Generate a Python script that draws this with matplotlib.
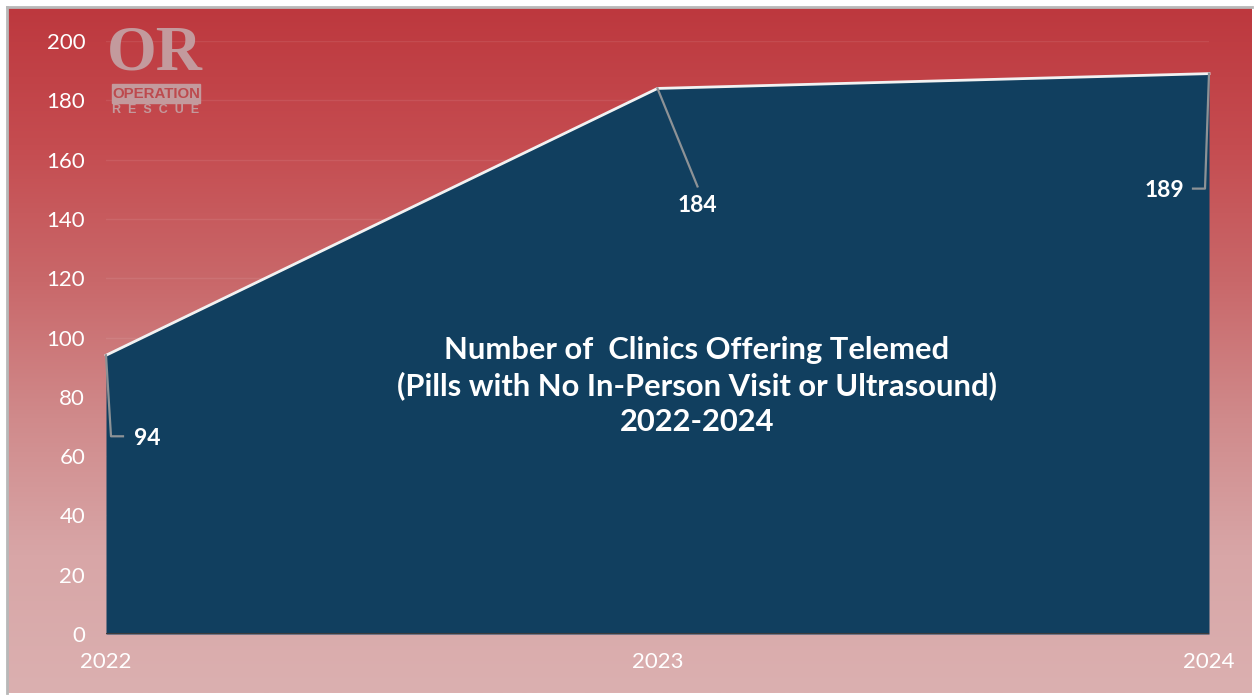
# Number of clinics offering telemed, 2022-2024

import numpy as np
import matplotlib.pyplot as plt
import matplotlib.colors as mcolors
from matplotlib.lines import Line2D
from matplotlib.patches import Rectangle

years = [2022, 2023, 2024]
clinics = [94, 184, 189]
y_ticks = list(range(0, 201, 20))
title_lines = ['Number of  Clinics Offering Telemed',
               '(Pills with No In-Person Visit or Ultrasound)',
               '2022-2024']

W, H = 1254, 696
plt.rcParams['font.family'] = ['Lato', 'DejaVu Sans']


def px(x, y, w=0, h=0):
    # pixel box (from top left) to figure fraction
    return [x / W, 1 - (y + h) / H, w / W, h / H]


fig = plt.figure(figsize=(W / 100, H / 100), dpi=100, facecolor='white')

# page background: grey frame on top and left, red gradient inside
frame = fig.add_axes(px(7, 7, 1245, 686))
frame.set_xticks([])
frame.set_yticks([])
frame.spines['bottom'].set_visible(False)
frame.spines['right'].set_visible(False)
for name in ['top', 'left']:
    frame.spines[name].set_color('#b8b8b8')
    frame.spines[name].set_linewidth(2)
cmap = mcolors.LinearSegmentedColormap.from_list(
    'bg', ['#bd383e', '#c54c50', '#c9686a', '#d08a8b', '#d8a6a7', '#dbb0b0'])
frame.imshow(np.linspace(0, 1, 256).reshape(-1, 1), cmap=cmap, aspect='auto')

# plot area
ax = fig.add_axes(px(106, 41, 1103, 593))
ax.patch.set_alpha(0)
ax.set_xlim(2022, 2024)
ax.set_ylim(0, 200)
ax.grid(axis='y', color='white', alpha=0.08, lw=1)
ax.set_axisbelow(True)
ax.fill_between(years, clinics, color='#113f5f', zorder=3, lw=0)
ax.plot(years, clinics, color='#f2f2f2', lw=2, zorder=4, clip_on=False)
ax.axhline(0, color='#3d3d3d', lw=2.2, zorder=5)

for s in ax.spines.values():
    s.set_visible(False)
ax.set_xticks(years)
ax.set_yticks(y_ticks)
ax.tick_params(length=0, labelcolor='white', labelsize=16)
ax.tick_params(axis='x', pad=13)
ax.tick_params(axis='y', pad=15)

# callouts, offsets in pixels from the data point
for i, elbow, end, text_off, ha in [
        (0, (5, -81), (17, -81), (28, -83), 'left'),
        (1, (40, -98), None, (40, -117), 'center'),
        (2, (-4, -115), (-16, -115), (-25, -117), 'right')]:
    x0, y0 = ax.transData.transform((years[i], clinics[i]))
    pts = [(0, 0), elbow] + ([end] if end else [])
    fig.add_artist(Line2D([x0 + p[0] for p in pts], [y0 + p[1] for p in pts],
                          transform=None, color='#8d9296', lw=1.6, zorder=5))
    ax.annotate(str(clinics[i]), xy=(years[i], clinics[i]), xytext=text_off,
                textcoords='offset pixels', color='white', fontsize=16.5,
                fontweight='bold', ha=ha, va='center', zorder=6)

# title inside the area
for line, ypx in zip(title_lines, [350, 386, 422]):
    fig.text(697 / W, 1 - ypx / H, line, color='white', fontsize=22.2,
             fontweight='bold', ha='center', va='center', zorder=10)

# logo
logo = '#c39a9d'
fig.text(155 / W, 1 - 55 / H, 'OR', color=logo, fontsize=46, fontweight='bold',
         family='Liberation Serif', ha='center', va='center', zorder=10)
fig.add_artist(Rectangle((112 / W, 1 - 103 / H), 88 / W, 19 / H, color=logo,
                         transform=fig.transFigure, zorder=10))
fig.text(156 / W, 1 - 93.5 / H, 'OPERATION', color='#bd4a4e', fontsize=10.8,
         fontweight='bold', family='Liberation Sans', ha='center', va='center',
         zorder=11)
fig.text(156 / W, 1 - 110 / H, 'R  E  S  C  U  E', color=logo, fontsize=9,
         fontweight='bold', family='Liberation Sans', ha='center', va='center',
         zorder=11)

fig.savefig('out.png', dpi=100)
